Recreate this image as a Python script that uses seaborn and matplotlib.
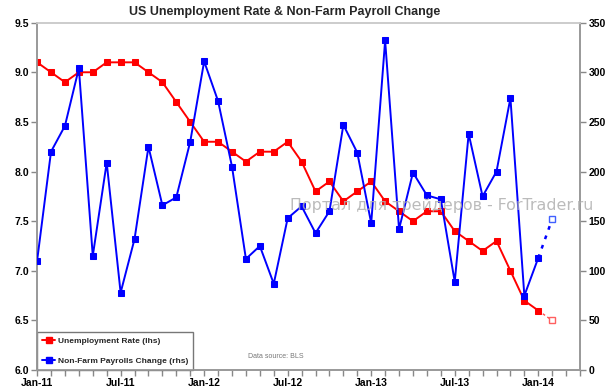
import numpy as np
import pandas as pd
import matplotlib
matplotlib.use("Agg")
import matplotlib.pyplot as plt
import seaborn as sns
from matplotlib.lines import Line2D

# monthly data, Jan-11 .. Jan-14
unemployment = [9.1, 9.0, 8.9, 9.0, 9.0, 9.1, 9.1, 9.1, 9.0, 8.9, 8.7, 8.5,
                8.3, 8.3, 8.2, 8.1, 8.2, 8.2, 8.3, 8.1, 7.8, 7.9, 7.7, 7.8,
                7.9, 7.7, 7.6, 7.5, 7.6, 7.6, 7.4, 7.3, 7.2, 7.3, 7.0, 6.7,
                6.6]
payrolls = [110, 220, 246, 304, 115, 209, 78, 132, 225, 166, 174, 230,
            311, 271, 205, 112, 125, 87, 153, 165, 138, 160, 247, 219,
            148, 332, 142, 199, 176, 172, 89, 238, 175, 200, 274, 75,
            113]
# Feb-14 forecast
unemp_forecast = 6.5
payroll_forecast = 152

tick_labels = ['Jan-11', 'Jul-11', 'Jan-12', 'Jul-12', 'Jan-13', 'Jul-13', 'Jan-14']

df = pd.DataFrame({'month': np.arange(len(unemployment)),
                   'unemp': unemployment, 'nfp': payrolls})
last = df['month'].iloc[-1]
fc = pd.DataFrame({'month': [last, last + 1],
                   'unemp': [unemployment[-1], unemp_forecast],
                   'nfp': [payrolls[-1], payroll_forecast]})

sns.set_style("white")
plt.rcParams['font.family'] = ['Liberation Sans', 'DejaVu Sans']

fig = plt.figure(figsize=(6.08, 3.90), dpi=100)
ax = fig.add_axes([0.061, 0.051, 0.893, 0.891])
ax2 = ax.twinx()

RED = '#ff0000'
BLUE = '#0000ff'

# watermark sits behind the lines
fig.text(0.477, 0.474, 'Портал для трейдеров - ForTrader.ru', fontsize=11.4,
         color='#b0b0b0', va='center', family=['DejaVu Sans'], alpha=0.85, zorder=0)

sns.lineplot(data=df, x='month', y='unemp', ax=ax, color=RED, marker='s',
             markersize=5, markeredgecolor=RED, linewidth=1.4, zorder=3)
sns.lineplot(data=df, x='month', y='nfp', ax=ax2, color=BLUE, marker='s',
             markersize=5, markeredgecolor=BLUE, linewidth=1.4, zorder=3)

# forecast segments
ax.plot(fc['month'], fc['unemp'], color=RED, linestyle=(0, (2, 2)), linewidth=1.0, alpha=0.7)
ax.plot(fc['month'].iloc[1:], fc['unemp'].iloc[1:], marker='s', markersize=5,
        markerfacecolor='white', markeredgecolor='#ff6060', linestyle='none')
ax2.plot(fc['month'], fc['nfp'], color=BLUE, linestyle=(0, (1.5, 2.5)), linewidth=1.8)
ax2.plot(fc['month'].iloc[1:], fc['nfp'].iloc[1:], marker='s', markersize=5,
         markerfacecolor='white', markeredgecolor='#4060ff', linestyle='none')

ax.set_xlim(0, 39)
ax.set_ylim(6.0, 9.5)
ax2.set_ylim(0, 350)
ax.set_yticks(np.arange(6.0, 9.51, 0.5))
ax.set_yticklabels([f'{v:.1f}' for v in np.arange(6.0, 9.51, 0.5)])
ax2.set_yticks(np.arange(0, 351, 50))
ax.set_xticks(np.arange(0, 39, 6))
ax.set_xticklabels(tick_labels)
ax.set_xticks(np.arange(0, 40, 1), minor=True)
ax.set_xlabel('')
ax.set_ylabel('')
ax2.set_ylabel('')
ax.patch.set_alpha(0)
ax2.patch.set_alpha(0)

for a in (ax, ax2):
    for s in a.spines.values():
        s.set_color('#999999')
        s.set_linewidth(1.2)
    a.spines['top'].set_color('#cccccc')
    a.tick_params(labelsize=7.5, colors='#888888', labelcolor='black', width=1,
                  length=4, direction='out')
ax.tick_params(axis='x', which='minor', length=4, width=1, color='#888888', bottom=True)
ax.tick_params(axis='x', which='major', length=4, bottom=True, pad=2)
ax.tick_params(axis='y', left=True, pad=2)
ax2.tick_params(axis='y', right=True, pad=2)
for lbl in ax.get_xticklabels() + ax.get_yticklabels() + ax2.get_yticklabels():
    lbl.set_fontweight('bold')

fig.suptitle('US Unemployment Rate & Non-Farm Payroll Change', x=0.468, y=0.985,
             fontsize=9, fontweight='bold')

handles = [Line2D([], [], color=RED, marker='s', markersize=4, linewidth=1.4),
           Line2D([], [], color=BLUE, marker='s', markersize=4, linewidth=1.4)]
leg = ax.legend(handles, ['Unemployment Rate (lhs)', 'Non-Farm Payrolls Change (rhs)'],
                loc='lower left', bbox_to_anchor=(0, 0), borderaxespad=0,
                frameon=True, fancybox=False, edgecolor='#555555',
                prop={'size': 6, 'weight': 'bold'}, handlelength=1.6,
                handletextpad=0.3, labelspacing=1.5, borderpad=0.6)
leg.get_frame().set_linewidth(1.0)
leg.set_zorder(5)

fig.text(0.408, 0.082, 'Data source: BLS', fontsize=5, color='#777777')

fig.savefig('out.png', dpi=100)
